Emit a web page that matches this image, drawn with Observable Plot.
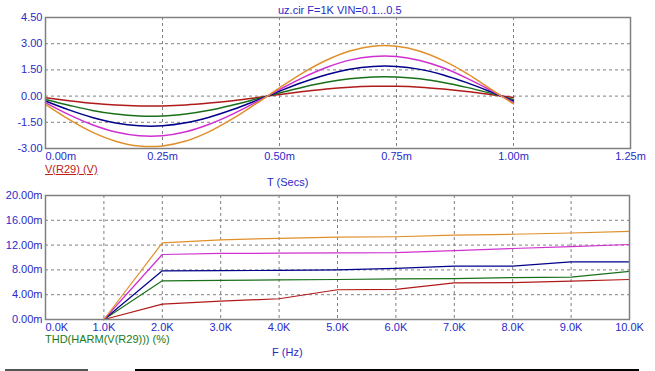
<!DOCTYPE html>
<html>
<head>
<meta charset="utf-8">
<script src="https://cdn.jsdelivr.net/npm/d3@7"></script>
<script src="https://cdn.jsdelivr.net/npm/@observablehq/plot@0.6"></script>
<style>
  html, body { margin: 0; padding: 0; background: #fff; }
  #root { position: relative; width: 655px; height: 371px; overflow: hidden; font-family: "Liberation Sans", Arial, sans-serif; font-size: 11px; }
  .abs { position: absolute; white-space: nowrap; line-height: 1; }
</style>
</head>
<body>
<div id="root"></div>
<script>
// ---------- Data: top panel (transient, V vs ms) ----------
const times = [0, 0.05, 0.10, 0.15, 0.20, 0.25, 0.30, 0.35, 0.40, 0.45, 0.50, 0.55, 0.60, 0.65, 0.70, 0.75, 0.80, 0.85, 0.90, 0.95, 1.00];
const vRed     = [-0.09, -0.26, -0.41, -0.51, -0.56, -0.56, -0.51, -0.40, -0.26, -0.09, 0.09, 0.26, 0.41, 0.51, 0.56, 0.56, 0.51, 0.40, 0.26, 0.09, -0.08];
const vGreen   = [-0.19, -0.52, -0.82, -1.03, -1.14, -1.14, -1.02, -0.81, -0.51, -0.17, 0.18, 0.51, 0.79, 0.99, 1.10, 1.10, 0.99, 0.78, 0.50, 0.17, -0.19];
const vBlue    = [-0.28, -0.79, -1.22, -1.54, -1.70, -1.70, -1.53, -1.21, -0.77, -0.26, 0.28, 0.79, 1.22, 1.54, 1.70, 1.70, 1.53, 1.21, 0.77, 0.26, -0.28];
const vMagenta = [-0.37, -1.06, -1.64, -2.06, -2.27, -2.27, -2.04, -1.61, -1.03, -0.35, 0.37, 1.06, 1.64, 2.06, 2.27, 2.27, 2.04, 1.62, 1.03, 0.35, -0.37];
const vOrange  = [-0.47, -1.33, -2.06, -2.58, -2.86, -2.85, -2.57, -2.03, -1.29, -0.43, 0.47, 1.33, 2.05, 2.58, 2.86, 2.85, 2.57, 2.03, 1.30, 0.43, -0.45];

// ---------- Data: bottom panel (THD vs kHz, in m%) ----------
const freqs = [1, 2, 3, 4, 5, 6, 7, 8, 9, 10];
const thdRed     = [0, 2.47, 2.95, 3.35, 4.80, 4.85, 5.90, 5.95, 6.20, 6.45];
const thdGreen   = [0, 6.24, 6.30, 6.40, 6.45, 6.55, 6.60, 6.75, 6.85, 7.75];
const thdBlue    = [0, 7.85, 7.88, 7.92, 8.00, 8.25, 8.60, 8.60, 9.30, 9.30];
const thdMagenta = [0, 10.48, 10.65, 10.70, 10.75, 10.80, 11.10, 11.45, 11.75, 12.10];
const thdOrange  = [0, 12.35, 12.85, 13.10, 13.30, 13.35, 13.60, 13.75, 13.95, 14.20];

// ---------- Labels / ticks ----------
const seriesColors = ["#b01a1a", "#1a701a", "#00008a", "#d030d0", "#e0902a"];
const topXTicks = [0, 0.25, 0.5, 0.75, 1.0, 1.25];
const topYTicks = [-3, -1.5, 0, 1.5, 3, 4.5];
const botXTicks = [0, 1, 2, 3, 4, 5, 6, 7, 8, 9, 10];
const botYTicks = [0, 4, 8, 12, 16, 20];
const titleText = "uz.cir F=1K VIN=0.1...0.5";
const topYLabel = "V(R29) (V)";
const topXLabel = "T (Secs)";
const botYLabel = "THD(HARM(V(R29))) (%)";
const botXLabel = "F (Hz)";

const labelColor = "#2a2ac8";
const gridColor = "#808080";

function rows(xs, ys) { return xs.map((x, i) => ({x, y: ys[i]})); }

const root = document.getElementById("root");

// Top chart
const topSeries = [vRed, vGreen, vBlue, vMagenta, vOrange];
const topChart = Plot.plot({
  width: 655, height: 190,
  marginLeft: 45, marginRight: 25, marginTop: 17, marginBottom: 42,
  style: {fontFamily: "Liberation Sans, Arial, sans-serif", fontSize: "11px", background: "transparent", overflow: "visible"},
  x: {domain: [0, 1.25], label: null},
  y: {domain: [-3, 4.5], label: null},
  marks: [
    Plot.gridX(topXTicks, {stroke: gridColor, strokeOpacity: 1, strokeDasharray: "3,3"}),
    Plot.gridY(topYTicks, {stroke: gridColor, strokeOpacity: 1, strokeDasharray: "3,3"}),
    ...topSeries.map((s, i) => Plot.line(rows(times, s), {x: "x", y: "y", stroke: seriesColors[i], strokeWidth: 1.5, curve: "catmull-rom"})),
    Plot.frame({stroke: gridColor, strokeWidth: 1.5}),
    Plot.axisY(topYTicks, {tickSize: 0, tickPadding: 3, tickFormat: d => d.toFixed(2), fill: labelColor, label: null}),
    Plot.axisX(topXTicks.slice(0, 1), {tickSize: 0, tickPadding: 4, tickFormat: d => d.toFixed(2) + "m", fill: labelColor, textAnchor: "start", label: null}),
    Plot.axisX(topXTicks.slice(1), {tickSize: 0, tickPadding: 4, tickFormat: d => d.toFixed(2) + "m", fill: labelColor, label: null})
  ]
});
topChart.style.position = "absolute";
topChart.style.left = "0px";
topChart.style.top = "0px";
root.appendChild(topChart);

// Bottom chart
const botSeries = [thdRed, thdGreen, thdBlue, thdMagenta, thdOrange];
const botChart = Plot.plot({
  width: 655, height: 175,
  marginLeft: 45, marginRight: 26, marginTop: 17, marginBottom: 34,
  style: {fontFamily: "Liberation Sans, Arial, sans-serif", fontSize: "11px", background: "transparent", overflow: "visible"},
  x: {domain: [0, 10], label: null},
  y: {domain: [0, 20], label: null},
  marks: [
    Plot.gridX(botXTicks, {stroke: gridColor, strokeOpacity: 1, strokeDasharray: "3,3"}),
    Plot.gridY(botYTicks, {stroke: gridColor, strokeOpacity: 1, strokeDasharray: "3,3"}),
    ...botSeries.map((s, i) => Plot.line(rows(freqs, s), {x: "x", y: "y", stroke: seriesColors[i], strokeWidth: 1.2})),
    Plot.frame({stroke: gridColor, strokeWidth: 1.5}),
    Plot.axisY(botYTicks, {tickSize: 0, tickPadding: 3, tickFormat: d => d.toFixed(2) + "m", fill: labelColor, label: null}),
    Plot.axisX(botXTicks.slice(0, 1), {tickSize: 0, tickPadding: 4, tickFormat: d => d.toFixed(1) + "K", fill: labelColor, textAnchor: "start", label: null}),
    Plot.axisX(botXTicks.slice(1), {tickSize: 0, tickPadding: 4, tickFormat: d => d.toFixed(1) + "K", fill: labelColor, label: null})
  ]
});
botChart.style.position = "absolute";
botChart.style.left = "0px";
botChart.style.top = "178px";
root.appendChild(botChart);

// Text labels
function addText(txt, left, topPx, color, extra) {
  const d = document.createElement("div");
  d.className = "abs";
  d.textContent = txt;
  d.style.left = left + "px";
  d.style.top = topPx + "px";
  d.style.color = color;
  if (extra) Object.assign(d.style, extra);
  root.appendChild(d);
  return d;
}
addText(titleText, 278, 5, labelColor);
addText(topYLabel, 45, 164, "#c02020", {textDecoration: "underline"});
addText(topXLabel, 267, 177, labelColor);
addText(botYLabel, 45, 334, "#1a7a1a");
addText(botXLabel, 272, 347, labelColor);

// status bar lines
const l1 = document.createElement("div");
Object.assign(l1.style, {position: "absolute", left: "5px", top: "369px", width: "83px", height: "2px", background: "#555"});
root.appendChild(l1);
const l2 = document.createElement("div");
Object.assign(l2.style, {position: "absolute", left: "135px", top: "369px", width: "504px", height: "2px", background: "#000"});
root.appendChild(l2);
</script>
</body>
</html>
